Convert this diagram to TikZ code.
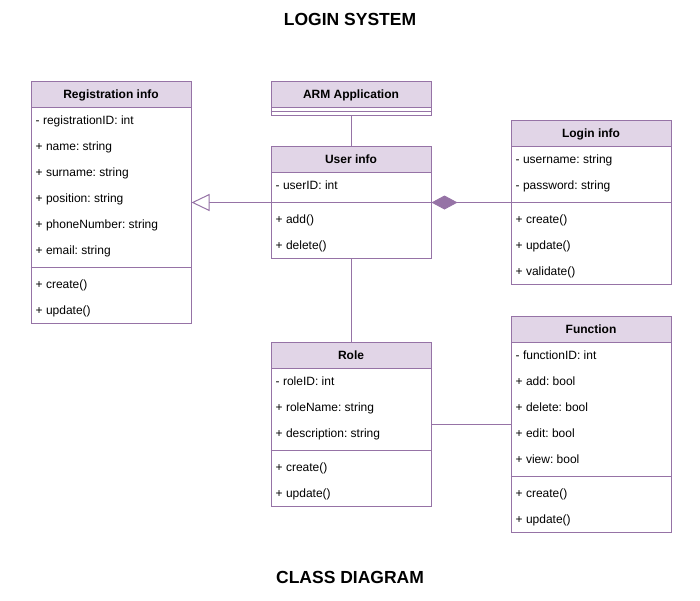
\documentclass[tikz,border=0pt]{standalone}
\usepackage{fontspec}
\setmainfont{Liberation Sans}
\usetikzlibrary{arrows.meta}
\definecolor{umlc}{HTML}{9673A6}
\definecolor{umlh}{HTML}{E1D5E7}
\frenchspacing
\tikzset{
  classbox/.style={draw=umlc, line width=1pt, fill=white, minimum width=160pt, minimum height=#1, inner sep=0pt, anchor=north west},
  classhead/.style={draw=umlc, fill=umlh, line width=1pt, minimum width=160pt, minimum height=26pt, inner sep=0pt, anchor=north west, text height=8.6pt, text depth=0pt, font=\bfseries\fontsize{12}{14}\selectfont},
  attr/.style={anchor=base west, inner sep=0pt, font=\fontsize{12}{14}\selectfont},
  divider/.style={draw=umlc, line width=1pt},
  conn/.style={draw=umlc, line width=1pt},
  titletext/.style={font=\bfseries\fontsize{17.5}{20}\selectfont, text height=12.5pt, text depth=0pt, inner sep=0pt},
}
\begin{document}
\begin{tikzpicture}[x=1pt,y=-1pt]
\useasboundingbox (0,0) rectangle (700,600);
\node[titletext] (t1) at (350,19) {LOGIN SYSTEM};
\node[titletext] (t2) at (350,577) {CLASS DIAGRAM};

% Registration info
\node[classbox=242pt] (reg) at (30.5,81) {};
\node[classhead] (regh) at (30.5,81) {Registration info};
\foreach \t [count=\i] in {- registrationID: int, + name: string, + surname: string, + position: string, + phoneNumber: string, + email: string}
  \node[attr] (rega\i) at (35.5,{120+26*(\i-1)+4.5}) {\t};
\draw[divider] (30.5,267) -- (190.5,267);
\foreach \t [count=\i] in {+ create(), + update()}
  \node[attr] (regm\i) at (35.5,{284+26*(\i-1)+4.5}) {\t};

% ARM Application
\node[classbox=34pt] (arm) at (270.5,81) {};
\node[classhead] (armh) at (270.5,81) {ARM Application};
\draw[divider] (270.5,111) -- (430.5,111);

% User info
\node[classbox=112pt] (user) at (270.5,146) {};
\node[classhead] (userh) at (270.5,146) {User info};
\node[attr] (usera1) at (275.5,{185+4.5}) {- userID: int};
\draw[divider] (270.5,202) -- (430.5,202);
\foreach \t [count=\i] in {+ add(), + delete()}
  \node[attr] (userm\i) at (275.5,{219+26*(\i-1)+4.5}) {\t};

% Login info
\node[classbox=164pt] (login) at (510.5,120) {};
\node[classhead] (loginh) at (510.5,120) {Login info};
\foreach \t [count=\i] in {- username: string, - password: string}
  \node[attr] (logina\i) at (515.5,{159+26*(\i-1)+4.5}) {\t};
\draw[divider] (510.5,202) -- (670.5,202);
\foreach \t [count=\i] in {+ create(), + update(), + validate()}
  \node[attr] (loginm\i) at (515.5,{219+26*(\i-1)+4.5}) {\t};

% Role
\node[classbox=164pt] (role) at (270.5,342) {};
\node[classhead] (roleh) at (270.5,342) {Role};
\foreach \t [count=\i] in {- roleID: int, + roleName: string, + description: string}
  \node[attr] (rolea\i) at (275.5,{381+26*(\i-1)+4.5}) {\t};
\draw[divider] (270.5,450) -- (430.5,450);
\foreach \t [count=\i] in {+ create(), + update()}
  \node[attr] (rolem\i) at (275.5,{467+26*(\i-1)+4.5}) {\t};

% Function
\node[classbox=216pt] (func) at (510.5,316) {};
\node[classhead] (funch) at (510.5,316) {Function};
\foreach \t [count=\i] in {- functionID: int, + add: bool, + delete: bool, + edit: bool, + view: bool}
  \node[attr] (funca\i) at (515.5,{355+26*(\i-1)+4.5}) {\t};
\draw[divider] (510.5,476) -- (670.5,476);
\foreach \t [count=\i] in {+ create(), + update()}
  \node[attr] (funcm\i) at (515.5,{493+26*(\i-1)+4.5}) {\t};

% connectors
\draw[conn] (arm.south) -- (user.north);
\draw[conn] (user.south) -- (role.north);
\draw[conn] (role.east) -- (func.west);
\draw[conn, -{Triangle[open, length=18pt, width=17pt, fill=white]}] (user.west) -- (reg.east);
\draw[conn, {Diamond[length=26pt, width=14pt, fill=umlc]}-] (user.east) -- (login.west);
\end{tikzpicture}
\end{document}
